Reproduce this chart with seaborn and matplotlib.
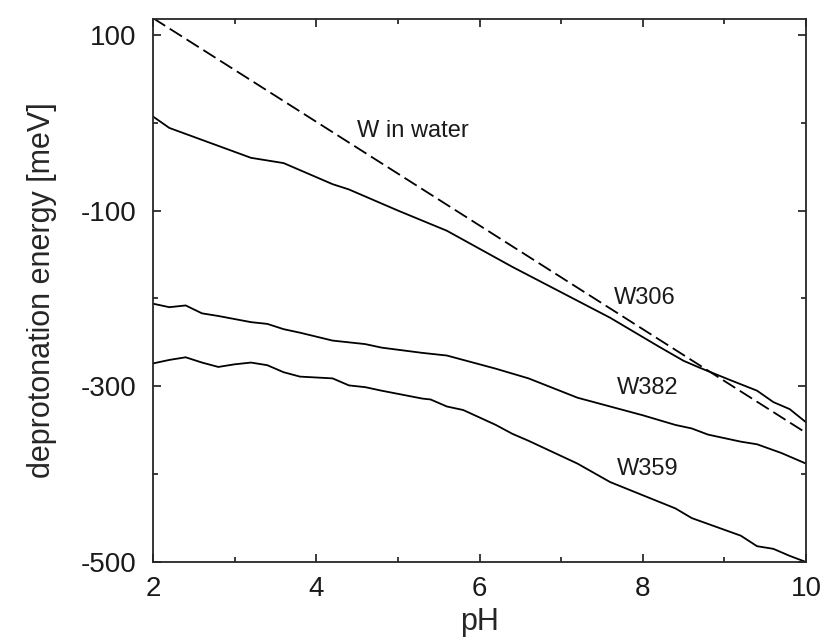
import pandas as pd
import matplotlib.pyplot as plt
import seaborn as sns

# values
ph_water = [2.0, 10.0]
e_water = [119, -353]

ph_w306 = [2.0, 2.2, 3.2, 3.6, 4.2, 4.4, 5.0, 5.6, 6.4, 7.6, 8.2, 8.5, 8.7, 9.1, 9.4, 9.6, 9.8, 10.0]
e_w306 = [7, -6, -40, -46, -70, -76, -100, -123, -164, -222, -255, -271, -279, -294, -305, -318, -326, -341]

ph_w382 = [2.0, 2.2, 2.4, 2.6, 2.8, 3.2, 3.4, 3.6, 3.8, 4.2, 4.4, 4.6, 4.8, 5.3, 5.6, 5.8,
           6.2, 6.6, 7.2, 7.6, 8.0, 8.4, 8.6, 8.8, 9.2, 9.4, 9.7, 10.0]
e_w382 = [-206, -210, -208, -217, -220, -227, -229, -235, -239, -248, -250, -252, -256, -262, -265, -270,
          -280, -291, -313, -323, -333, -344, -348, -355, -363, -366, -376, -388]

ph_w359 = [2.0, 2.2, 2.4, 2.6, 2.8, 3.0, 3.2, 3.4, 3.6, 3.8, 4.2, 4.4, 4.6, 4.8, 5.3, 5.4,
           5.6, 5.8, 6.2, 6.4, 6.6, 7.2, 7.6, 8.0, 8.4, 8.6, 9.2, 9.4, 9.6, 9.8, 10.0]
e_w359 = [-274, -270, -267, -273, -278, -275, -273, -276, -284, -289, -291, -299, -301, -305, -314, -315,
          -323, -327, -344, -354, -362, -388, -409, -424, -439, -450, -470, -482, -485, -493, -500]

# labels placed next to the curves: (text, x, y)
labels = [("W in water", 4.5, -10), ("W306", 7.64, -200), ("W382", 7.68, -302), ("W359", 7.68, -394)]

sns.set_style("ticks")
plt.rcParams['font.family'] = ['Liberation Sans', 'DejaVu Sans']
plt.rcParams['axes.unicode_minus'] = False

fig = plt.figure(figsize=(8.24, 6.37), dpi=100)
ax = fig.add_axes([0.1857, 0.1177, 0.7925, 0.8525])

lw = 1.3
sns.lineplot(x=ph_water, y=e_water, ax=ax, color='black', lw=lw, linestyle=(0, (8, 3)))
sns.lineplot(x=ph_w306, y=e_w306, ax=ax, color='black', lw=lw)
sns.lineplot(x=ph_w382, y=e_w382, ax=ax, color='black', lw=lw)
sns.lineplot(x=ph_w359, y=e_w359, ax=ax, color='black', lw=lw)

for txt, x, y in labels:
    ax.text(x, y, txt, fontsize=17, ha='left', va='center', color='#1a1a1a')

ax.set_xlim(2, 10)
ax.set_ylim(-500, 118)
ax.set_xticks([2, 4, 6, 8, 10])
ax.set_xticks([3, 5, 7, 9], minor=True)
ax.set_yticks([100, -100, -300, -500])
ax.set_yticks([0, -200, -400], minor=True)

ax.tick_params(which='both', direction='in', top=True, right=True, width=1.2, labelsize=20, colors='#1a1a1a')
ax.tick_params(which='major', length=6)
ax.tick_params(which='minor', length=3.5)
ax.tick_params(axis='y', pad=12)
ax.tick_params(axis='x', pad=10)

for s in ax.spines.values():
    s.set_linewidth(1.3)
    s.set_visible(True)

ax.set_xlabel("pH", fontsize=22, labelpad=4)
ax.set_ylabel("deprotonation energy [meV]", fontsize=22, labelpad=17)

fig.savefig("out.png", dpi=100)
